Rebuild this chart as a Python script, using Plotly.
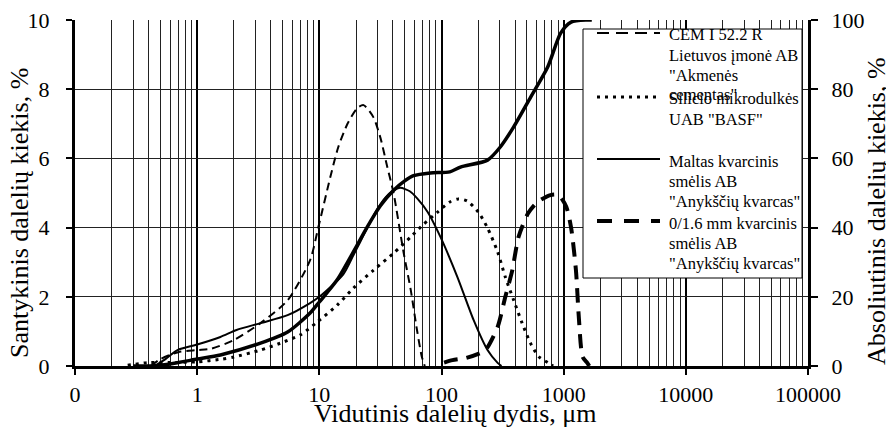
import plotly.graph_objects as go

# Particle size distribution, x = mean particle size (µm), y = relative amount (%)
cem_x = [0.42, 0.5, 0.7, 1.0, 1.3, 2.0, 3.3, 5.5, 8.4, 9.8, 12.3, 14.3, 17, 20.4, 23, 27.6, 31.6, 36, 40.5, 49, 56, 63, 69, 73]
cem_y = [0.0, 0.2, 0.4, 0.46, 0.5, 0.75, 1.24, 1.9, 3.06, 4.0, 5.46, 6.33, 7.0, 7.45, 7.54, 7.2, 6.6, 5.75, 5.0, 3.27, 2.2, 1.04, 0.27, 0.0]

silica_x = [0.27, 0.4, 0.6, 1.0, 1.6, 2.0, 3.3, 4.8, 7.0, 9.6, 14, 19, 27.8, 40.5, 56, 70, 93, 117, 138, 162, 200, 238, 288, 333, 390, 457, 535, 630, 740, 820]
silica_y = [0.02, 0.1, 0.1, 0.12, 0.2, 0.26, 0.46, 0.66, 0.9, 1.27, 1.76, 2.25, 2.77, 3.26, 3.73, 4.07, 4.45, 4.74, 4.83, 4.77, 4.45, 3.99, 3.3, 2.57, 1.9, 1.24, 0.66, 0.26, 0.1, 0.0]

ground_x = [0.45, 0.55, 0.69, 1.0, 1.55, 2.1, 3.3, 5.5, 8.4, 10, 15.7, 19, 21.7, 26, 30, 35, 40, 46, 55, 63, 77, 98, 135, 183, 238, 288, 310]
ground_y = [0.0, 0.2, 0.46, 0.62, 0.84, 1.04, 1.24, 1.47, 1.82, 2.0, 2.65, 3.2, 3.6, 4.15, 4.55, 4.88, 5.06, 5.15, 5.05, 4.85, 4.45, 3.73, 2.57, 1.33, 0.46, 0.09, 0.0]

sand_x = [105, 123, 158, 200, 229, 288, 333, 380, 427, 513, 611, 780, 910, 1050, 1150, 1260, 1330, 1430, 1560, 1620]
sand_y = [0.1, 0.17, 0.23, 0.35, 0.46, 1.13, 2.0, 2.77, 3.73, 4.42, 4.74, 4.94, 4.94, 4.6, 4.0, 2.77, 1.42, 0.26, 0.09, 0.0]

# cumulative (absolute) amount, right axis
cum_x = [0.3, 0.41, 0.6, 1.0, 1.55, 3.3, 5.5, 8.4, 10, 14, 19, 24.5, 31.6, 40, 50, 59, 81, 117, 143, 238, 303, 390, 537, 740, 945, 1150, 1560, 1700]
cum_y = [0, 0, 0.6, 2.0, 3.2, 6.6, 9.8, 15.3, 18.5, 24.9, 33.0, 40.0, 46.3, 50.6, 53.5, 55.0, 55.8, 56.1, 57.5, 59.5, 63.3, 69.1, 77.7, 86.4, 96.2, 99.4, 100, 100]

x_ticks = [0.1, 1, 10, 100, 1000, 10000, 100000]
x_labels = ["0", "1", "10", "100", "1000", "10000", "100000"]

legend_labels = [
    ["CEM I 52.2 R", "Lietuvos įmonė AB", "\"Akmenės", "cementas\""],
    ["Silicio mikrodulkės", "UAB \"BASF\""],
    ["Maltas kvarcinis", "smėlis AB", "\"Anykščių kvarcas\""],
    ["0/1.6 mm kvarcinis", "smėlis AB", "\"Anykščių kvarcas\""],
]

FONT = "Liberation Serif"
# the page body adds an 8px offset, so the figure is 8px smaller than the window
W, H = 886, 420
L, R, T, B = 67, 86, 12, 62
PL, PT = L + 8, T + 8          # plot area corner in screen pixels
PW, PH = W - L - R, H - T - B


def px_x(px):
    return (px - PL) / PW


def px_y(py):
    return (PT + PH - py) / PH


styles = [
    dict(width=2, dash="8px,5px"),
    dict(width=3, dash="3px,5px"),
    dict(width=2, dash="solid"),
    dict(width=4, dash="14px,9px"),
]
sample_dash = ["12px,7px", "3px,5px", "solid", "15px,12px"]

fig = go.Figure()
series = [(cem_x, cem_y), (silica_x, silica_y), (ground_x, ground_y), (sand_x, sand_y)]
for (xs, ys), st in zip(series, styles):
    fig.add_trace(go.Scatter(x=xs, y=ys, mode="lines",
                             line=dict(color="black", shape="spline", smoothing=0.7, **st),
                             showlegend=False, hoverinfo="skip"))

fig.add_trace(go.Scatter(x=cum_x, y=cum_y, yaxis="y2", mode="lines",
                         line=dict(color="black", width=3.5, shape="spline", smoothing=0.7),
                         showlegend=False, hoverinfo="skip"))

# minor log grid positions (2..9 in each decade)
minor_vals = [m * 10 ** e for e in range(-1, 5) for m in range(2, 10)]

fig.update_layout(
    width=W, height=H,
    margin=dict(l=L, r=R, t=T, b=B),
    paper_bgcolor="white", plot_bgcolor="white",
    font=dict(family=FONT, size=22, color="black"),
    showlegend=False,
    xaxis=dict(type="log", range=[-1, 5], tickmode="array", tickvals=x_ticks, ticktext=x_labels,
               showgrid=True, gridcolor="black", gridwidth=2,
               minor=dict(tickmode="array", tickvals=minor_vals, showgrid=True,
                          gridcolor="#222", gridwidth=1, ticks=""),
               ticks="outside", ticklen=6, tickwidth=2, tickcolor="black",
               ticklabelstandoff=1, ticklabeloverflow="allow", automargin=False,
               showline=True, linewidth=3, linecolor="black", zeroline=False),
    yaxis=dict(range=[0, 10], dtick=2, showgrid=True, gridcolor="#222", gridwidth=1,
               ticks="outside", ticklen=6, tickwidth=2, tickcolor="black",
               ticklabelstandoff=12, ticklabeloverflow="allow", automargin=False,
               showline=True, linewidth=3, linecolor="black", zeroline=False),
    yaxis2=dict(range=[0, 100], dtick=20, overlaying="y", side="right", anchor="x",
                showgrid=False, ticks="outside", ticklen=7, tickwidth=2, tickcolor="black",
                ticklabelstandoff=9, ticklabeloverflow="allow", automargin=False,
                showline=True, linewidth=3, linecolor="black", zeroline=False),
)

# axis titles
fig.add_annotation(text="Vidutinis dalelių dydis, μm", xref="paper", yref="paper",
                   x=px_x(455), y=px_y(413), xanchor="center", yanchor="middle",
                   showarrow=False, font=dict(size=26))
fig.add_annotation(text="Santykinis dalelių kiekis, %", xref="paper", yref="paper",
                   x=px_x(19), y=px_y(213), xanchor="center", yanchor="middle",
                   textangle=-90, showarrow=False, font=dict(size=26))
fig.add_annotation(text="Absoliutinis dalelių kiekis, %", xref="paper", yref="paper",
                   x=px_x(876), y=px_y(211), xanchor="center", yanchor="middle",
                   textangle=-90, showarrow=False, font=dict(size=26))

# legend box drawn by hand to keep the original tight layout
fig.add_shape(type="rect", xref="paper", yref="paper", layer="above",
              x0=px_x(583), x1=px_x(802), y0=px_y(278), y1=px_y(29),
              fillcolor="white", line=dict(color="black", width=1))

item_y = [33, 97, 159, 221]
LINE_H = 20
for lines, st, sd, yy in zip(legend_labels, styles, sample_dash, item_y):
    fig.add_shape(type="line", xref="paper", yref="paper", layer="above",
                  x0=px_x(597), x1=px_x(660), y0=px_y(yy), y1=px_y(yy),
                  line=dict(color="black", width=st["width"], dash=sd))
    for j, txt in enumerate(lines):
        fig.add_annotation(text=txt, xref="paper", yref="paper",
                           x=px_x(667), y=px_y(yy + 2 + j * LINE_H),
                           xanchor="left", yanchor="middle", showarrow=False,
                           font=dict(size=16.5))

fig.write_html("out.html")
